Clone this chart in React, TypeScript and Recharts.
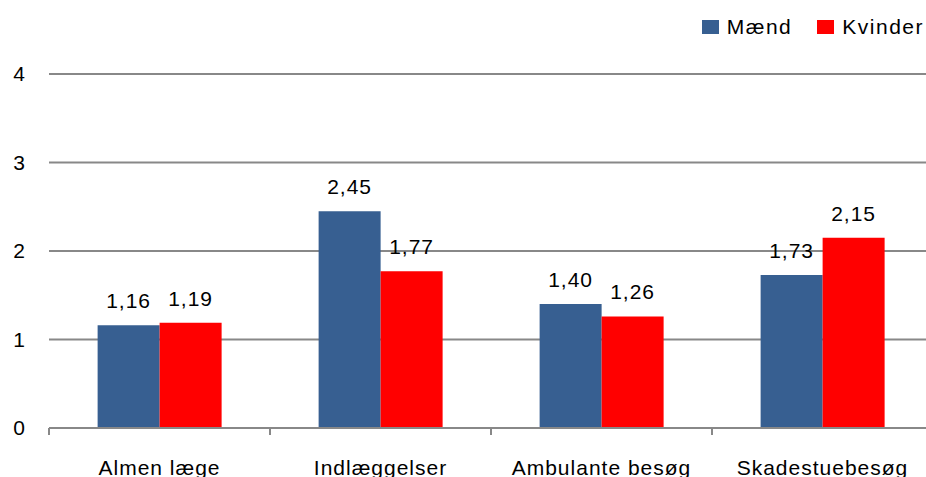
import React from "react";
import { BarChart, Bar, XAxis, YAxis, CartesianGrid, Legend, LabelList } from "recharts";

const categories = ["Almen læge", "Indlæggelser", "Ambulante besøg", "Skadestuebesøg"];
const maendValues = [1.16, 2.45, 1.4, 1.73];
const kvinderValues = [1.19, 1.77, 1.26, 2.15];
const yTicks = [0, 1, 2, 3, 4];
const seriesNames = ["Mænd", "Kvinder"];
const seriesColors = ["#375F91", "#FF0000"];

const data = categories.map((c, i) => ({ name: c, maend: maendValues[i], kvinder: kvinderValues[i] }));

const FONT = "'Liberation Sans', Arial, sans-serif";
const fmt = (v: any) => Number(v).toFixed(2).replace(".", ",");

const CatTick = (props: any) => {
  const { x, y, payload } = props;
  const off = payload && payload.offset ? payload.offset : 110.5;
  return (
    <g>
      <line x1={x - off} y1={y} x2={x - off} y2={y + 7} stroke="#888888" strokeWidth={2} />
      <line x1={x + off} y1={y} x2={x + off} y2={y + 7} stroke="#888888" strokeWidth={2} />
      <text x={x} y={y + 47} textAnchor="middle" fontSize={21} letterSpacing={1} fontFamily={FONT} fill="#000">
        {payload.value}
      </text>
    </g>
  );
};

const LegendContent = () => (
  <div style={{ display: "flex", alignItems: "center", height: 30, fontFamily: FONT, fontSize: 21, letterSpacing: 1.5, color: "#000" }}>
    {seriesNames.map((n, i) => (
      <div key={n} style={{ display: "flex", alignItems: "center", marginLeft: i === 0 ? 0 : 25 }}>
        <span style={{ display: "inline-block", width: 17, height: 14, background: seriesColors[i], marginRight: 8 }} />
        <span>{n}</span>
      </div>
    ))}
  </div>
);

export default function App() {
  return (
    <div style={{ position: "absolute", left: 0, top: 0, width: 926, height: 477, overflow: "hidden", background: "#fff" }}>
      <BarChart
        width={940}
        height={477}
        data={data}
        margin={{ top: 44, right: 7, bottom: 0, left: 0 }}
        barCategoryGap="22%"
        barGap={0}
      >
        <CartesianGrid vertical={false} stroke="#888888" strokeWidth={2} />
        <XAxis
          dataKey="name"
          height={49}
          axisLine={{ stroke: "#888888", strokeWidth: 2 }}
          tickLine={false}
          tick={<CatTick />}
          interval={0}
          tickSize={0}
          tickMargin={0}
        />
        <YAxis
          width={49}
          domain={[0, 4]}
          ticks={yTicks}
          axisLine={false}
          tickLine={false}
          tickSize={0}
          tickMargin={24}
          tick={{ fontSize: 21, fontFamily: FONT, fill: "#000" }}
        />
        <Legend
          verticalAlign="top"
          align="right"
          content={<LegendContent />}
          wrapperStyle={{ top: 12, right: 16, width: "auto", left: "auto" }}
        />
        <Bar dataKey="maend" name={seriesNames[0]} fill={seriesColors[0]} isAnimationActive={false}>
          <LabelList dataKey="maend" position="top" offset={17} formatter={fmt} style={{ fontSize: 21, fontFamily: FONT, fill: "#000", letterSpacing: 1 }} />
        </Bar>
        <Bar dataKey="kvinder" name={seriesNames[1]} fill={seriesColors[1]} isAnimationActive={false}>
          <LabelList dataKey="kvinder" position="top" offset={17} formatter={fmt} style={{ fontSize: 21, fontFamily: FONT, fill: "#000", letterSpacing: 1 }} />
        </Bar>
      </BarChart>
    </div>
  );
}
